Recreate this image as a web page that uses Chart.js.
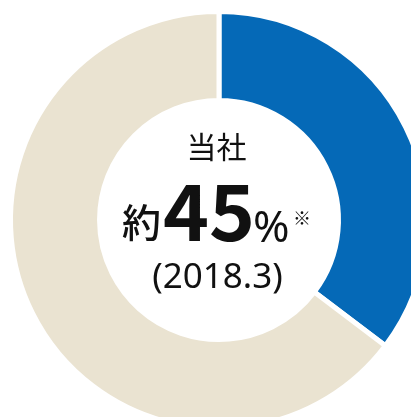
<!DOCTYPE html>
<html>
<head>
<meta charset="utf-8">
<script src="https://cdn.jsdelivr.net/npm/chart.js@4/dist/chart.umd.min.js"></script>
<style>
  html, body { margin: 0; padding: 0; background: #fff; overflow: hidden; width: 411px; height: 417px; }
  #wrap { position: absolute; left: 0; top: 0; width: 438px; height: 440px; }
</style>
</head>
<body>
<div id="wrap"><canvas id="c" width="438" height="440"></canvas></div>
<script>
const categories = ["当社", "その他"];
const shareValues = [35.3, 64.7];
const sliceColors = ["#0569b7", "#eae3d1"];
const centerTitle = "当社";
const centerPrefix = "約";
const centerNumber = "45";
const centerUnit = "%";
const centerNote = "※";
const centerDate = "(2018.3)";

const JP = '"Noto Sans CJK JP", "Noto Sans", sans-serif';
const LAT = '"Noto Sans", "Open Sans", sans-serif';

const centerText = {
  id: "centerText",
  afterDatasetsDraw(chart) {
    const arc = chart.getDatasetMeta(0).data[0];
    const cx = arc.x, cy = arc.y;
    const ctx = chart.ctx;
    ctx.save();
    ctx.fillStyle = "#111";
    ctx.textAlign = "left";
    ctx.textBaseline = "alphabetic";

    // line 1
    ctx.font = "400 30px " + JP;
    let m = ctx.measureText(centerTitle);
    ctx.fillText(centerTitle, cx - 2.5 - m.width / 2, cy - 58 - m.actualBoundingBoxDescent);

    // line 2 pieces
    const pieces = [
      { t: centerPrefix, f: "500 39px " + JP, gap: 5, dy: 0 },
      { t: centerNumber, f: "700 78px " + JP, gap: 4, dy: 0 },
      { t: centerUnit, f: "400 44px " + LAT, gap: 7, dy: 0 },
      { t: centerNote, f: "400 18px " + JP, gap: 0, dy: -17 }
    ];
    let total = 0;
    pieces.forEach((p, i) => {
      ctx.font = p.f;
      const mm = ctx.measureText(p.t);
      p.w = mm.actualBoundingBoxRight + mm.actualBoundingBoxLeft;
      p.l = mm.actualBoundingBoxLeft;
      p.d = mm.actualBoundingBoxDescent;
      total += p.w + (i < pieces.length - 1 ? p.gap : 0);
    });
    let x = cx - 3.5 - total / 2;
    const bottom = cy + 22;
    pieces.forEach((p) => {
      ctx.font = p.f;
      ctx.fillText(p.t, x + p.l, bottom + p.dy - p.d);
      x += p.w + p.gap;
    });

    // line 3
    ctx.font = "400 35px " + LAT;
    m = ctx.measureText(centerDate);
    ctx.fillText(centerDate, cx - 1.5 - m.width / 2, cy + 68);
    ctx.restore();
  }
};

new Chart(document.getElementById("c"), {
  type: "doughnut",
  data: {
    labels: categories,
    datasets: [{
      data: shareValues,
      backgroundColor: sliceColors,
      borderColor: "#ffffff",
      borderWidth: 5,
      hoverOffset: 0
    }]
  },
  options: {
    responsive: false,
    animation: false,
    cutout: "57.3%",
    layout: { padding: { left: 8, right: 8, top: 9, bottom: 9 } },
    plugins: { legend: { display: false }, tooltip: { enabled: false } }
  },
  plugins: [centerText]
});
</script>
</body>
</html>
